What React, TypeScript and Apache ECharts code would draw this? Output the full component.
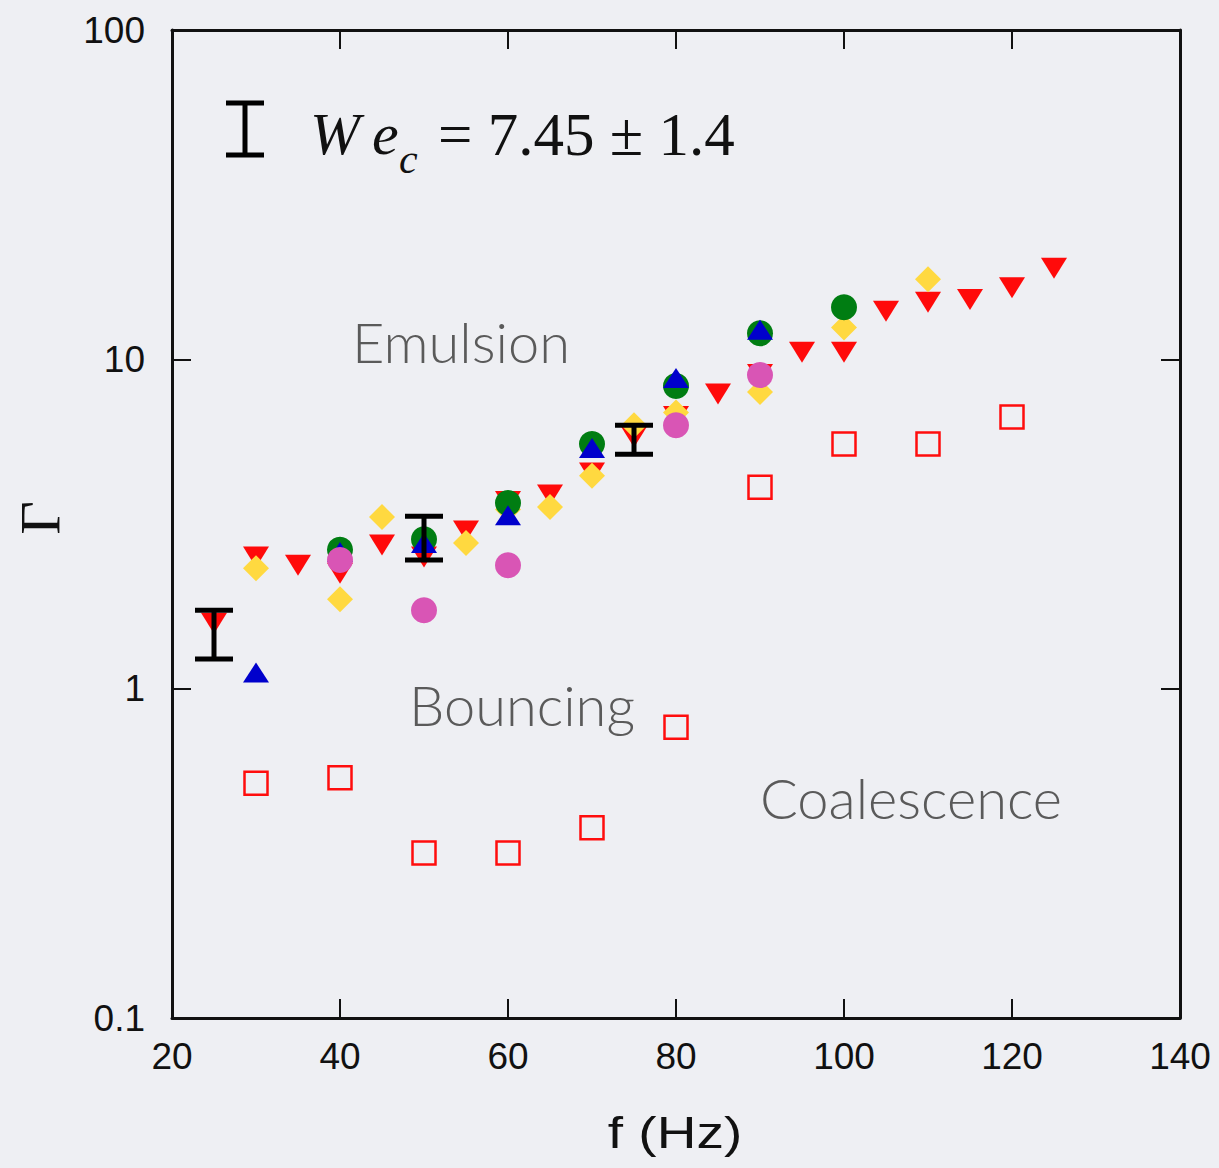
import React, { useEffect, useRef } from "react";
import * as echarts from "echarts";

// ---- data ----
const xMin = 20;
const xMax = 140;
const xStep = 20;
const yMin = 0.1;
const yMax = 100;

// red downward triangles
const redTriF = [25, 30, 35, 40, 45, 50, 55, 60, 65, 70, 75, 80, 85, 90, 95, 100, 105, 110, 115, 120, 125];
const redTriG = [1.58, 2.51, 2.37, 2.24, 2.73, 2.51, 3.01, 3.7, 3.87, 4.52, 5.81, 6.7, 7.85, 9.0, 10.5, 10.5, 14.0, 14.9, 15.2, 16.5, 18.9];

// yellow diamonds
const yellowF = [30, 40, 45, 55, 60, 65, 70, 75, 80, 90, 100, 110];
const yellowG = [2.32, 1.87, 3.32, 2.77, 3.5, 3.56, 4.43, 6.31, 6.9, 7.96, 12.5, 17.5];

// green circles
const greenF = [40, 50, 60, 70, 80, 90, 100];
const greenG = [2.64, 2.84, 3.66, 5.53, 8.3, 12.0, 14.4];

// blue upward triangles
const blueF = [30, 40, 50, 60, 70, 80, 90];
const blueG = [1.12, 2.6, 2.77, 3.36, 5.38, 8.77, 12.3];

// magenta circles
const pinkF = [40, 50, 60, 80, 90];
const pinkG = [2.46, 1.73, 2.37, 6.31, 8.96];

// red open squares
const squareF = [30, 40, 50, 60, 70, 80, 90, 100, 110, 120];
const squareG = [0.516, 0.536, 0.317, 0.317, 0.378, 0.763, 4.09, 5.53, 5.53, 6.68];

// error bars (We_c uncertainty)
const errF = [25, 50, 75];
const errLow = [1.23, 2.46, 5.15];
const errHigh = [1.73, 3.34, 6.31];

const zip = (a: number[], b: number[]) => a.map((v, i) => [v, b[i]]);

const BG = "#eeeff3";
const AXIS_FONT = "'Liberation Sans', Arial, Helvetica, sans-serif";
const SERIF = "'Liberation Serif', 'Times New Roman', serif";
const REGION_FONT = "Lato, 'Open Sans', sans-serif";

export default function App() {
  const ref = useRef<HTMLDivElement>(null);

  useEffect(() => {
    if (!ref.current) return;
    const chart = echarts.init(ref.current, null, { renderer: "svg" });

    const frameLine = { show: true, lineStyle: { color: "#111", width: 3 } };
    const tick = { show: true, inside: true, length: 19, lineStyle: { color: "#111", width: 2 } };
    const mk = (color: string) => ({ color, opacity: 1 });

    const option: any = {
      animation: false,
      backgroundColor: BG,
      grid: { left: 172, right: 39, top: 30, bottom: 150, containLabel: false },
      xAxis: [
        {
          type: "value",
          min: xMin,
          max: xMax,
          interval: xStep,
          position: "bottom",
          axisLine: frameLine,
          axisTick: tick,
          splitLine: { show: false },
          axisLabel: { fontSize: 37, color: "#111", fontFamily: AXIS_FONT, margin: 20 },
        },
        {
          type: "value",
          min: xMin,
          max: xMax,
          interval: xStep,
          position: "top",
          axisLine: frameLine,
          axisTick: tick,
          splitLine: { show: false },
          axisLabel: { show: false },
        },
      ],
      yAxis: [
        {
          type: "log",
          logBase: 10,
          min: yMin,
          max: yMax,
          position: "left",
          axisLine: frameLine,
          axisTick: tick,
          minorTick: { show: false },
          splitLine: { show: false },
          axisLabel: {
            fontSize: 37,
            color: "#111",
            fontFamily: AXIS_FONT,
            margin: 27,
            formatter: (v: number) => String(+Number(v).toPrecision(3)),
          },
        },
        {
          type: "log",
          logBase: 10,
          min: yMin,
          max: yMax,
          position: "right",
          axisLine: frameLine,
          axisTick: tick,
          splitLine: { show: false },
          axisLabel: { show: false },
        },
      ],
      series: [
        {
          type: "scatter",
          name: "squares",
          data: zip(squareF, squareG),
          symbol: "rect",
          symbolSize: 23,
          itemStyle: { color: "rgba(0,0,0,0)", borderColor: "#ff0d0d", borderWidth: 2.5, opacity: 1 },
          z: 2,
        },
        {
          type: "scatter",
          name: "red",
          data: zip(redTriF, redTriG),
          symbol: "triangle",
          symbolRotate: 180,
          symbolSize: [26, 21],
          itemStyle: mk("#ff0a0a"),
          z: 3,
        },
        {
          type: "scatter",
          name: "yellow",
          data: zip(yellowF, yellowG),
          symbol: "diamond",
          symbolSize: [26, 26],
          itemStyle: mk("#ffd940"),
          z: 4,
        },
        {
          type: "scatter",
          name: "green",
          data: zip(greenF, greenG),
          symbol: "circle",
          symbolSize: 26,
          itemStyle: mk("#007d12"),
          z: 5,
        },
        {
          type: "scatter",
          name: "blue",
          data: zip(blueF, blueG),
          symbol: "triangle",
          symbolSize: [26, 20],
          itemStyle: mk("#0000cc"),
          z: 6,
        },
        {
          type: "scatter",
          name: "pink",
          data: zip(pinkF, pinkG),
          symbol: "circle",
          symbolSize: 26,
          itemStyle: mk("#d955b5"),
          z: 7,
        },
        {
          type: "custom",
          name: "errors",
          z: 8,
          data: errF.map((f, i) => [f, errLow[i], errHigh[i]]),
          renderItem: (params: any, api: any) => {
            const lo = api.coord([api.value(0), api.value(1)]);
            const hi = api.coord([api.value(0), api.value(2)]);
            const hw = 19;
            const st = { stroke: "#000", lineWidth: 5 };
            return {
              type: "group",
              children: [
                { type: "line", shape: { x1: lo[0], y1: lo[1], x2: hi[0], y2: hi[1] }, style: st },
                { type: "line", shape: { x1: lo[0] - hw, y1: lo[1], x2: lo[0] + hw, y2: lo[1] }, style: st },
                { type: "line", shape: { x1: hi[0] - hw, y1: hi[1], x2: hi[0] + hw, y2: hi[1] }, style: st },
              ],
            };
          },
        },
      ],
      graphic: [
        // legend error-bar icon
        { type: "line", shape: { x1: 245, y1: 103, x2: 245, y2: 155 }, style: { stroke: "#000", lineWidth: 5 } },
        { type: "line", shape: { x1: 226, y1: 103, x2: 264, y2: 103 }, style: { stroke: "#000", lineWidth: 5 } },
        { type: "line", shape: { x1: 226, y1: 155, x2: 264, y2: 155 }, style: { stroke: "#000", lineWidth: 5 } },
        {
          type: "text",
          x: 310,
          y: 104,
          style: { text: "W", font: `italic 60px ${SERIF}`, fill: "#111", verticalAlign: "top", align: "left" },
        },
        {
          type: "text",
          x: 372,
          y: 104,
          style: { text: "e", font: `italic 60px ${SERIF}`, fill: "#111", verticalAlign: "top", align: "left" },
        },
        {
          type: "text",
          x: 399,
          y: 138,
          style: { text: "c", font: `italic 42px ${SERIF}`, fill: "#111", verticalAlign: "top", align: "left" },
        },
        {
          type: "text",
          x: 438,
          y: 104,
          style: { text: "= 7.45 ± 1.4", font: `61px ${SERIF}`, fill: "#111", verticalAlign: "top", align: "left" },
        },
        // region labels
        {
          type: "text",
          x: 461,
          y: 341,
          style: { text: "Emulsion", font: `300 56px ${REGION_FONT}`, fill: "#5a5a5a", align: "center", verticalAlign: "middle" },
        },
        {
          type: "text",
          x: 522,
          y: 704,
          style: { text: "Bouncing", font: `300 56px ${REGION_FONT}`, fill: "#5a5a5a", align: "center", verticalAlign: "middle" },
        },
        {
          type: "text",
          x: 911,
          y: 797,
          style: { text: "Coalescence", font: `300 56px ${REGION_FONT}`, fill: "#5a5a5a", align: "center", verticalAlign: "middle" },
        },
        // axis titles
        {
          type: "text",
          x: 675,
          y: 1133,
          scaleX: 1.25,
          style: { text: "f (Hz)", font: `44px ${AXIS_FONT}`, fill: "#111", align: "center", verticalAlign: "middle" },
        },
        {
          type: "text",
          x: 40,
          y: 518,
          rotation: Math.PI / 2,
          style: { text: "Γ", font: `58px ${SERIF}`, fill: "#111", align: "center", verticalAlign: "middle" },
        },
      ],
    };

    chart.setOption(option);
    return () => chart.dispose();
  }, []);

  return (
    <div
      ref={ref}
      style={{ position: "absolute", left: 0, top: 0, width: 1219, height: 1168, background: BG }}
    />
  );
}
